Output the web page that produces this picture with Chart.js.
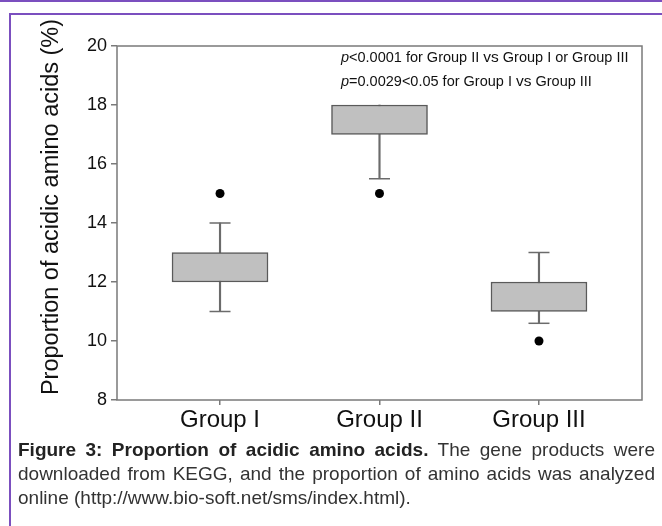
<!DOCTYPE html>
<html>
<head>
<meta charset="utf-8">
<script src="https://cdn.jsdelivr.net/npm/chart.js@4.4.1/dist/chart.umd.min.js"></script>
<style>
  body { margin: 0; background: #fff; font-family: "Liberation Sans", Arial, sans-serif; }
  #topline { position: absolute; left: 0; top: 0; width: 662px; height: 2px; background: #7b4fbf; }
  #frame { position: absolute; left: 9px; top: 13px; width: 653px; height: 513px;
           border-top: 2px solid #7b4fbf; border-left: 2px solid #7b4fbf; }
  #wrap { position: absolute; left: 0; top: 0; width: 662px; height: 440px; }
  #caption { position: absolute; left: 18px; top: 438px; width: 637px; font-size: 19px;
             line-height: 24px; color: #333; text-align: justify; }
  #caption b { color: #222; }
</style>
</head>
<body>
<div id="topline"></div>
<div id="frame"></div>
<div id="wrap"><canvas id="box"></canvas></div>
<div id="caption"><b>Figure 3: Proportion of acidic amino acids.</b> The gene products were downloaded from KEGG, and the proportion of amino acids was analyzed online (http://www.bio-soft.net/sms/index.html).</div>
<script>
// данные
const groups = ['Group I', 'Group II', 'Group III'];
const q1 = [12, 17, 11];
const q3 = [13, 18, 12];
const whiskerLow = [11, 15.5, 10.6];
const whiskerHigh = [14, 18, 13];
const outliers = [15, 15, 10];
const yTicks = [8, 10, 12, 14, 16, 18, 20];

const GREY = '#6b6b6b';
const FONT = '"Liberation Sans", Arial, sans-serif';

const xs = groups.map((g, i) => i + 1);

// засечки усов (только если ус выходит за коробку)
const caps = [];
xs.forEach((x, i) => {
    if (whiskerLow[i] < q1[i]) caps.push({ x: x, y: whiskerLow[i] });
    if (whiskerHigh[i] > q3[i]) caps.push({ x: x, y: whiskerHigh[i] });
});

// подписи и рамка поверх графика
const extras = {
    id: 'extras',
    afterDraw(c) {
        const ctx = c.ctx;
        const a = c.chartArea;
        ctx.save();
        ctx.strokeStyle = '#7a7a7a';
        ctx.lineWidth = 1.5;
        ctx.strokeRect(a.left, a.top, a.right - a.left, a.bottom - a.top);

        // заголовок оси Y
        ctx.fillStyle = '#111';
        ctx.font = '23.5px ' + FONT;
        ctx.textAlign = 'center';
        ctx.textBaseline = 'middle';
        ctx.translate(52, 207);
        ctx.rotate(-Math.PI / 2);
        ctx.fillText('Proportion of acidic amino acids (%)', 0, 0);
        ctx.restore();

        // p-значения
        ctx.save();
        ctx.fillStyle = '#111';
        ctx.textBaseline = 'middle';
        const parts1 = [['italic 14.5px ' + FONT, 'p'], ['14.5px ' + FONT, '<0.0001 for Group II '],
                        ['15.5px ' + FONT, 'vs'], ['14.5px ' + FONT, ' Group I or Group III']];
        const parts2 = [['italic 14.5px ' + FONT, 'p'], ['14.5px ' + FONT, '=0.0029<0.05 for Group I '],
                        ['15.5px ' + FONT, 'vs'], ['14.5px ' + FONT, ' Group III']];
        [[parts1, 58], [parts2, 82]].forEach(([parts, y]) => {
            let x = 341;
            parts.forEach(([f, t]) => {
                ctx.font = f;
                ctx.fillText(t, x, y);
                x += ctx.measureText(t).width;
            });
        });
        ctx.restore();
    }
};

new Chart(document.getElementById('box'), {
    type: 'bar',
    data: {
        datasets: [
            {
                label: 'box',
                data: xs.map((x, i) => ({ x: x, y: [q1[i], q3[i]] })),
                backgroundColor: '#c0c0c0',
                borderColor: '#5a5a5a',
                borderWidth: 1.5,
                borderSkipped: false,
                barThickness: 96,
                grouped: false,
                order: 1
            },
            {
                label: 'whisker',
                data: xs.map((x, i) => ({ x: x, y: [whiskerLow[i], whiskerHigh[i]] })),
                backgroundColor: GREY,
                borderWidth: 0,
                barThickness: 1.5,
                grouped: false,
                order: 3
            },
            {
                type: 'scatter',
                label: 'caps',
                data: caps,
                pointStyle: 'line',
                pointRadius: 10.5,
                borderColor: GREY,
                borderWidth: 1.5,
                order: 2
            },
            {
                type: 'scatter',
                label: 'outliers',
                data: xs.map((x, i) => ({ x: x, y: outliers[i] })),
                pointRadius: 4.5,
                backgroundColor: '#000',
                borderColor: '#000',
                borderWidth: 0,
                order: 0
            }
        ]
    },
    options: {
        responsive: true,
        maintainAspectRatio: false,
        animation: false,
        layout: { padding: { top: 46, right: 20, left: 0, bottom: 0 } },
        plugins: { legend: { display: false }, tooltip: { enabled: false } },
        scales: {
            x: {
                type: 'linear',
                offset: false,
                min: 0.354,
                max: 3.646,
                afterBuildTicks: (s) => { s.ticks = xs.map(v => ({ value: v })); },
                afterFit: (s) => { s.height = 40; },
                grid: { display: true, offset: false, drawOnChartArea: false, drawTicks: true, tickLength: 5, color: '#7a7a7a', lineWidth: 1.5 },
                border: { display: false },
                ticks: {
                    padding: 1,
                    color: '#111',
                    font: { size: 24, family: FONT },
                    callback: (v) => groups[v - 1] || ''
                }
            },
            y: {
                min: 8,
                max: 20,
                afterBuildTicks: (s) => { s.ticks = yTicks.map(v => ({ value: v })); },
                afterFit: (s) => { s.width = 117; },
                grid: { display: true, drawOnChartArea: false, drawTicks: true, tickLength: 6, color: '#7a7a7a', lineWidth: 1.5 },
                border: { display: false },
                ticks: {
                    padding: 4,
                    color: '#111',
                    font: { size: 18, family: FONT }
                }
            }
        }
    },
    plugins: [extras]
});
</script>
</body>
</html>
